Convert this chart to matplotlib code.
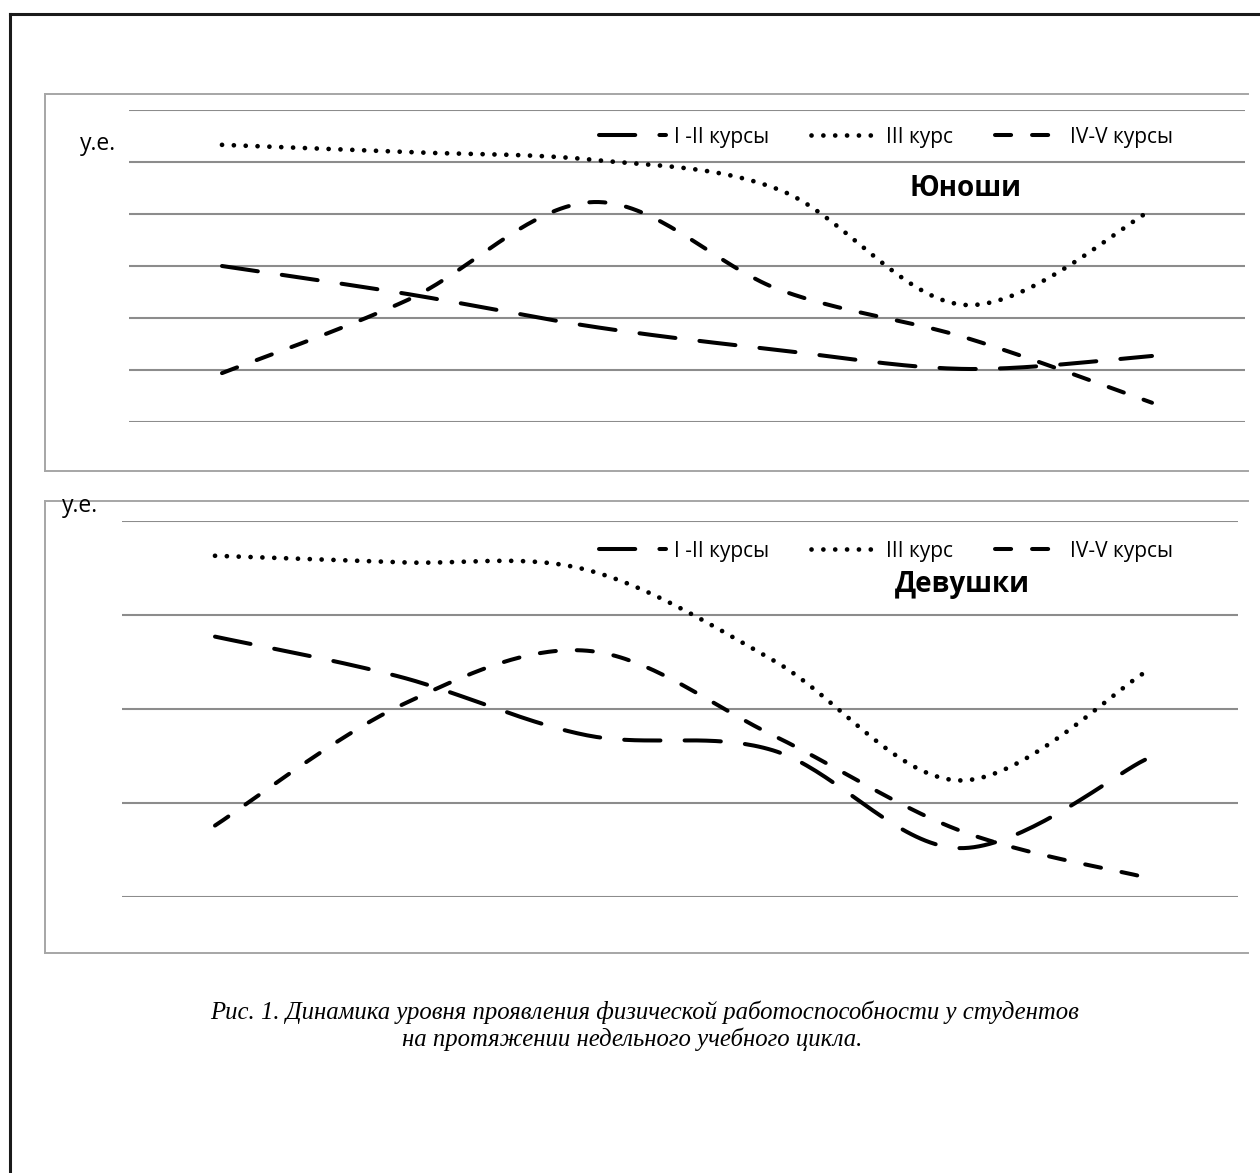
import numpy as np
import matplotlib
matplotlib.use("Agg")
import matplotlib.pyplot as plt
from matplotlib.lines import Line2D

# ---------------- data ----------------
days = [0, 1, 2, 3, 4, 5]
series_labels = ["I -II курсы", "III курс", "IV-V курсы"]

boys_1_2 = [3.00, 2.46, 1.83, 1.38, 1.02, 1.27]
boys_3 = [5.33, 5.19, 5.04, 4.46, 2.25, 4.08]
boys_4_5 = [0.94, 2.35, 4.23, 2.54, 1.62, 0.37]

girls_1_2 = [2.77, 2.34, 1.72, 1.56, 0.52, 1.46]
girls_3 = [3.63, 3.56, 3.48, 2.52, 1.24, 2.39]
girls_4_5 = [0.76, 2.04, 2.62, 1.72, 0.71, 0.21]

caption_lines = [
    "Рис. 1. Динамика уровня проявления физической работоспособности у студентов",
    "на протяжении недельного учебного цикла.",
]

W, H = 1260, 1173
fig = plt.figure(figsize=(W / 100, H / 100), dpi=100)
fig.patch.set_facecolor("white")


def fx(px):
    return px / W


def fy(py):
    return 1 - py / H


def smooth(xs, ys, n=40):
    """Excel-like smoothed line (Catmull-Rom / Bezier with 1/6 tension)."""
    xs = np.asarray(xs, float)
    ys = np.asarray(ys, float)
    P = np.column_stack([xs, ys])
    out = []
    for i in range(len(P) - 1):
        p0 = P[i - 1] if i > 0 else P[i]
        p1 = P[i]
        p2 = P[i + 1]
        p3 = P[i + 2] if i + 2 < len(P) else P[i + 1]
        c1 = p1 + (p2 - p0) / 6
        c2 = p2 - (p3 - p1) / 6
        t = np.linspace(0, 1, n)[:, None]
        seg = ((1 - t) ** 3) * p1 + 3 * ((1 - t) ** 2) * t * c1 + 3 * (1 - t) * t ** 2 * c2 + t ** 3 * p2
        if i > 0:
            seg = seg[1:]
        out.append(seg)
    out = np.vstack(out)
    return out[:, 0], out[:, 1]


LW = 2.9  # points (~4 px)
styles = [
    dict(dashes=(9, 6), dash_capstyle="round"),
    dict(dashes=(0.01, 2.5), dash_capstyle="round", linewidth=3.4),
    dict(dashes=(4, 5.2), dash_capstyle="round"),
]

grid_color = "#8c8c8c"
frame_color = "#a6a6a6"
UI_FONT = "Open Sans"

# outer page border
fig.add_artist(Line2D([fx(10), fx(10)], [fy(14), fy(H + 5)], color="#1a1a1a", lw=2.2, transform=fig.transFigure))
fig.add_artist(Line2D([fx(10), fx(W + 5)], [fy(14), fy(14)], color="#1a1a1a", lw=2.2, transform=fig.transFigure))


def panel_frame(top, bottom, left=45, right=1248):
    for xs, ys in [([left, right], [top, top]), ([left, right], [bottom, bottom]), ([left, left], [top, bottom])]:
        fig.add_artist(Line2D([fx(v) for v in xs], [fy(v) for v in ys], color=frame_color, lw=1.4,
                              transform=fig.transFigure))


def make_panel(gx0, gx1, gy_top, gy_bot, ymax, data, title, title_xy, ylabel_xy, legend_xy):
    ax = fig.add_axes([fx(gx0), fy(gy_bot), fx(gx1) - fx(gx0), fy(gy_top) - fy(gy_bot)])
    ax.set_xlim(-0.5, 5.5)
    ax.set_ylim(0, ymax)
    ax.set_yticks(range(0, ymax + 1))
    ax.set_xticks([])
    ax.tick_params(left=False, labelleft=False)
    for s in ax.spines.values():
        s.set_visible(False)
    ax.grid(axis="y", color=grid_color, lw=1.5)
    ax.set_axisbelow(True)
    ax.patch.set_alpha(0)
    handles = []
    for vals, st, lab in zip(data, styles, series_labels):
        sx, sy = smooth(days, vals)
        kw = dict(color="black", linewidth=LW)
        kw.update(st)
        ax.plot(sx, sy, solid_capstyle="round", clip_on=False, **kw)
        handles.append(Line2D([], [], color="black", **{**dict(linewidth=LW), **st}, label=lab))
    fig.legend(handles=handles, loc="center left", bbox_to_anchor=(fx(legend_xy[0]), fy(legend_xy[1])),
               ncol=3, frameon=False, handlelength=3.2, handletextpad=0.4, columnspacing=2.0,
               prop=dict(family=UI_FONT, size=15), borderaxespad=0)
    fig.text(fx(title_xy[0]), fy(title_xy[1]), title, ha="center", va="center", fontsize=20,
             fontweight="bold", family=UI_FONT)
    fig.text(fx(ylabel_xy[0]), fy(ylabel_xy[1]), "у.е.", ha="left", va="center", fontsize=16.5, family=UI_FONT)
    return ax


panel_frame(94, 471)
make_panel(129, 1245, 110, 422, 6, [boys_1_2, boys_3, boys_4_5], "Юноши", (965, 189), (80, 144), (591, 137))

panel_frame(501, 953)
make_panel(122, 1238, 521, 897, 4, [girls_1_2, girls_3, girls_4_5], "Девушки", (962, 584), (62, 506), (591, 551))

fig.text(fx(645), fy(1012), caption_lines[0], ha="center", va="center", fontsize=17.8, style="italic",
         family="Liberation Serif")
fig.text(fx(632), fy(1039), caption_lines[1], ha="center", va="center", fontsize=17.8, style="italic",
         family="Liberation Serif")

fig.savefig("out.png", dpi=100, facecolor="white")
